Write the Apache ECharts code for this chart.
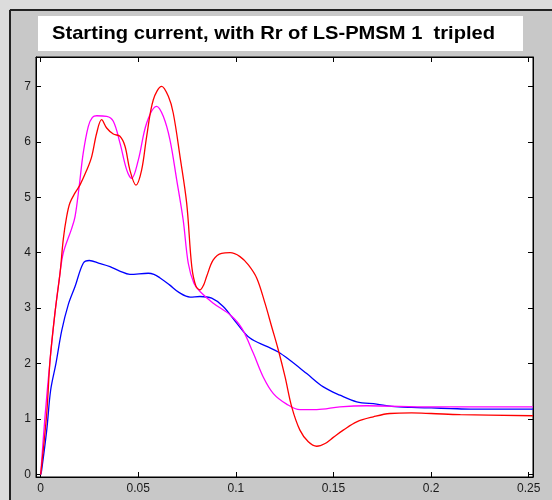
<!DOCTYPE html>
<html>
<head>
<meta charset="utf-8">
<script src="https://cdn.jsdelivr.net/npm/echarts@6/dist/echarts.min.js"></script>
<style>
  html, body { margin: 0; padding: 0; background: #c8c8c8; }
  #chart { width: 552px; height: 500px; }
</style>
</head>
<body>
<div id="chart"></div>
<script>
// Starting current traces (time in s, current in p.u.)
const xTicks = [0, 0.05, 0.1, 0.15, 0.2, 0.25];
const yTicks = [0, 1, 2, 3, 4, 5, 6, 7];

const blueT = [0, 0.0005, 0.0031, 0.0051, 0.0078, 0.0108, 0.0141, 0.0176, 0.0218, 0.0249, 0.03, 0.0355, 0.0405, 0.0457, 0.0551, 0.058, 0.061, 0.066, 0.071, 0.0765, 0.0816, 0.0876, 0.0935, 0.1004, 0.1072, 0.1158, 0.1217, 0.1277, 0.1363, 0.1448, 0.1533, 0.1619, 0.1721, 0.1798, 0.19, 0.2, 0.21, 0.22, 0.2522];
const blueY = [0, 0.08, 0.8, 1.52, 2.0, 2.6, 3.06, 3.39, 3.81, 3.86, 3.81, 3.75, 3.67, 3.61, 3.63, 3.61, 3.55, 3.42, 3.28, 3.2, 3.21, 3.18, 3.03, 2.73, 2.46, 2.31, 2.21, 2.06, 1.82, 1.58, 1.43, 1.31, 1.27, 1.23, 1.21, 1.2, 1.19, 1.18, 1.18];

const magentaT = [0, 0.0022, 0.0048, 0.0073, 0.0099, 0.0116, 0.0159, 0.0176, 0.0198, 0.0218, 0.0244, 0.0265, 0.0287, 0.0338, 0.0372, 0.0406, 0.0441, 0.0466, 0.05, 0.0543, 0.0594, 0.0628, 0.0662, 0.0697, 0.073, 0.0756, 0.0785, 0.0816, 0.0884, 0.097, 0.103, 0.1089, 0.114, 0.1192, 0.126, 0.1328, 0.1414, 0.1533, 0.167, 0.2, 0.2522];
const magentaY = [0, 1.04, 2.06, 2.91, 3.63, 4.0, 4.44, 4.65, 5.22, 5.8, 6.28, 6.44, 6.47, 6.46, 6.37, 5.98, 5.49, 5.34, 5.67, 6.34, 6.64, 6.46, 6.04, 5.31, 4.59, 3.81, 3.45, 3.3, 3.09, 2.88, 2.64, 2.19, 1.76, 1.46, 1.27, 1.17, 1.17, 1.22, 1.24, 1.22, 1.22];

const redT = [0, 0.0031, 0.0048, 0.0073, 0.0099, 0.0116, 0.0133, 0.015, 0.0176, 0.0201, 0.0236, 0.0261, 0.0287, 0.0312, 0.0338, 0.0372, 0.0406, 0.0432, 0.0457, 0.0488, 0.0517, 0.0543, 0.0577, 0.062, 0.0654, 0.0679, 0.0714, 0.0748, 0.0774, 0.0795, 0.0816, 0.0835, 0.085, 0.0884, 0.0927, 0.097, 0.1021, 0.1064, 0.1107, 0.1149, 0.1183, 0.1217, 0.1252, 0.1286, 0.1328, 0.1371, 0.1414, 0.1457, 0.1499, 0.155, 0.1619, 0.1704, 0.1789, 0.19, 0.2, 0.215, 0.2522];
const redY = [0, 1.1, 2.06, 2.91, 3.63, 4.25, 4.65, 4.9, 5.08, 5.22, 5.49, 5.73, 6.16, 6.4, 6.25, 6.14, 6.1, 5.92, 5.49, 5.22, 5.49, 6.1, 6.76, 7.0, 6.82, 6.52, 5.73, 4.89, 3.75, 3.4, 3.33, 3.42, 3.57, 3.87, 3.99, 4.0, 3.93, 3.78, 3.54, 3.09, 2.67, 2.25, 1.76, 1.22, 0.8, 0.59, 0.51, 0.56, 0.67, 0.8, 0.95, 1.04, 1.1, 1.11, 1.1, 1.08, 1.06];

const pairs = (t, v) => t.map((x, i) => [x, v[i]]);

const labelFont = { color: '#1a1a1a', fontSize: 12, fontFamily: 'Liberation Sans, Arial, sans-serif' };
const fmt = v => String(+(+v).toFixed(3));

function xAx(pos, labels) {
  return {
    type: 'value', position: pos, min: -0.0024, max: 0.2522,
    axisLine: { show: true, onZero: false, lineStyle: { color: '#000', width: 1 } },
    axisTick: { show: true, inside: true, length: 5, customValues: xTicks, lineStyle: { color: '#000' } },
    axisLabel: Object.assign({ show: labels, customValues: xTicks, margin: 6, formatter: fmt }, labelFont),
    splitLine: { show: false }
  };
}
function yAx(pos, labels) {
  return {
    type: 'value', position: pos, min: -0.045, max: 7.53,
    axisLine: { show: true, onZero: false, lineStyle: { color: '#000', width: 1 } },
    axisTick: { show: true, inside: true, length: 5, customValues: yTicks, lineStyle: { color: '#000' } },
    axisLabel: Object.assign({ show: labels, customValues: yTicks, margin: 5, formatter: fmt }, labelFont),
    splitLine: { show: false }
  };
}

function line(name, color, t, v) {
  return {
    name, type: 'line', data: pairs(t, v), showSymbol: false, smooth: 0.35,
    lineStyle: { color, width: 1.3 }, itemStyle: { color },
    xAxisIndex: 0, yAxisIndex: 0, animation: false
  };
}

const chart = echarts.init(document.getElementById('chart'), null, { renderer: 'canvas' });
chart.setOption({
  backgroundColor: '#c8c8c8',
  animation: false,
  grid: { left: 36, top: 57, width: 497, height: 420, show: true, backgroundColor: '#fff', borderColor: '#000', borderWidth: 1 },
  xAxis: [xAx('bottom', true), xAx('top', false)],
  yAxis: [yAx('left', true), yAx('right', false)],
  graphic: [
    { type: 'rect', z: -10, shape: { x: 0, y: 0, width: 552, height: 9 }, style: { fill: '#dcdcdc' } },
    { type: 'rect', z: -10, shape: { x: 0, y: 0, width: 9, height: 500 }, style: { fill: '#dcdcdc' } },
    { type: 'line', z: 5, shape: { x1: 10, y1: 10, x2: 552, y2: 10 }, style: { stroke: '#222', lineWidth: 2 } },
    { type: 'line', z: 5, shape: { x1: 10, y1: 10, x2: 10, y2: 500 }, style: { stroke: '#222', lineWidth: 2 } },
    { type: 'rect', z: 5, shape: { x: 38, y: 16, width: 485, height: 35 }, style: { fill: '#fff' } },
    { type: 'text', z: 6, x: 52, y: 34, scaleX: 1.06, style: { text: 'Starting current, with Rr of LS-PMSM 1  tripled', fill: '#000', font: 'bold 19px "Liberation Sans", Arial, sans-serif', textVerticalAlign: 'middle' } }
  ],
  series: [
    line('Blue', '#0000ff', blueT, blueY),
    line('Magenta', '#ff00ff', magentaT, magentaY),
    line('Red', '#ff0000', redT, redY)
  ]
});
</script>
</body>
</html>
